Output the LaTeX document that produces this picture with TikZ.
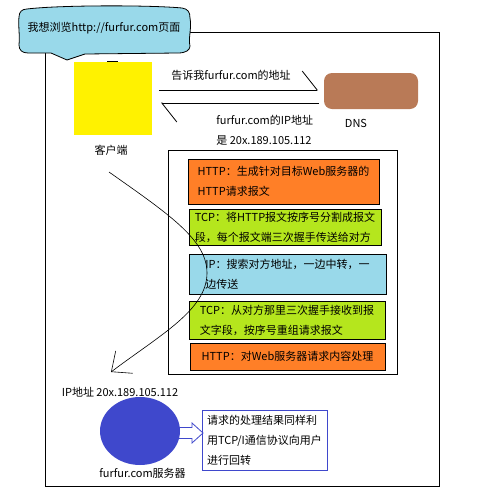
\documentclass[tikz,border=0pt]{standalone}
\usepackage{fontspec}
\newfontfamily\cjk{Noto Sans CJK SC}
\usepackage{xcolor}
\usepackage{tikz}
\usetikzlibrary{arrows.meta,shapes.geometric}
\definecolor{paintorange}{HTML}{FF7F27}
\definecolor{paintlime}{HTML}{B5E61D}
\definecolor{paintsky}{HTML}{99D9EA}
\definecolor{paintyellow}{HTML}{FFF200}
\definecolor{paintbrown}{HTML}{B97A57}
\definecolor{paintindigo}{HTML}{3F48CC}

\begin{document}
\begin{tikzpicture}
[
x=1pt,y=-1pt,
font=\cjk\fontsize{11}{20}\selectfont,
line width=0.8pt,
layer/.style 2 args={draw,fill=#1,align=left,minimum width=#2,inner sep=0pt},
halfhead/.style={-{Straight Barb[left,length=15pt,width=38pt]}},
openhead/.style={-{Straight Barb[length=16pt,width=28pt]}},
blockarrow/.style={draw=paintindigo,fill=white},
]
\useasboundingbox (0,0) rectangle (480,501);

%frame and speech bubble
\draw (45,32) rectangle (439,486);
\draw[fill=paintsky] (27,9) .. controls (60,5) and (150,5) .. (182,8)
  .. controls (188,9) and (190,12) .. (190,18)
  .. controls (192,28) and (188,38) .. (190,46)
  .. controls (190,50) and (186,53) .. (178,53) -- (85,54) -- (67,60) -- (51,53) -- (28,53)
  .. controls (22,53) and (19,50) .. (19,45)
  .. controls (20,35) and (18,25) .. (19,17)
  .. controls (19,12) and (22,9) .. cycle;

%Place the nodes
\node (wish) at (104,28) {我想浏览http://furfur.com页面};
\node[fill=paintyellow,minimum width=78,minimum height=73] (client) at (113,98.5) {};	%client = yellow
\draw ([xshift=-6pt]client.north) -- ([xshift=5pt]client.north);
\node (clientname) at (111,150) {客户端};
\node[fill=paintbrown,rounded corners=8pt,minimum width=94,minimum height=36] (dns) at (371,91) {};
\node (dnsname) at (356,123) {DNS};
\node (ask) at (231,75) {告诉我furfur.com的地址};
\node[align=left,anchor=west,inner sep=0pt] (answer) at (216,130) {furfur.com的IP地址\\是 20x.189.105.112};

%protocol stack
\node[draw,minimum width=229,minimum height=224] (stack) at (282.5,262) {};
\node[layer={paintorange}{191},minimum height=45] (http1) at (283.5,181.5) {HTTP：生成针对目标Web服务器的\\HTTP请求报文};
\node[layer={paintlime}{192},minimum height=36] (tcp1) at (285,227) {TCP：将HTTP报文按序号分割成报文\\段，每个报文端三次握手传送给对方};
\node[layer={paintsky}{197},minimum height=40] (ip) at (287.5,274) {IP：搜索对方地址，一边中转，一\\边传送};
\node[layer={paintlime}{196},minimum height=38] (tcp2) at (287,320) {TCP：从对方那里三次握手接收到报\\文字段，按序号重组请求报文};
\node[layer={paintorange}{195},minimum height=27] (http2) at (287.5,356.5) {HTTP：对Web服务器请求内容处理};

%server side
\node (ipname) at (120,392) {IP地址 20x.189.105.112};
\path ([yshift=-2pt]140,431) ++(40,0) coordinate (ba);
\draw[blockarrow] (ba) ++(-4,-5.5) -- ++(16,0) -- ++(0,-4.5) -- ++(11,10) -- ++(-11,10) -- ++(0,-4.5) -- ++(-16,0);
\node[ellipse,fill=paintindigo,minimum width=80,minimum height=68,inner sep=0pt] (server) at (140,431) {};
\node (servername) at (142.5,473) {furfur.com服务器};
\node[draw=paintindigo,align=left,minimum width=125,minimum height=60,inner xsep=4pt] (result) at (264.5,440) {请求的处理结果同样利\\用TCP/I通信协议向用户\\进行回转};

%connections
\coordinate (ask-from) at (159,90);
\coordinate (ask-to) at (318,90);
\coordinate (reply-from) at (319,103);
\coordinate (reply-to) at (161,103);
\draw[halfhead] (ask-from) -- (ask-to);
\draw[halfhead] (reply-from) -- (reply-to);
\coordinate (req-from) at (109,172);
\coordinate (req-to) at (111,372);
\draw[openhead,line width=0.6pt] (req-from) .. controls (170,215) and (207,240) .. (207,273)
  .. controls (207,310) and (160,335) .. (req-to);
\end{tikzpicture}
\end{document}
